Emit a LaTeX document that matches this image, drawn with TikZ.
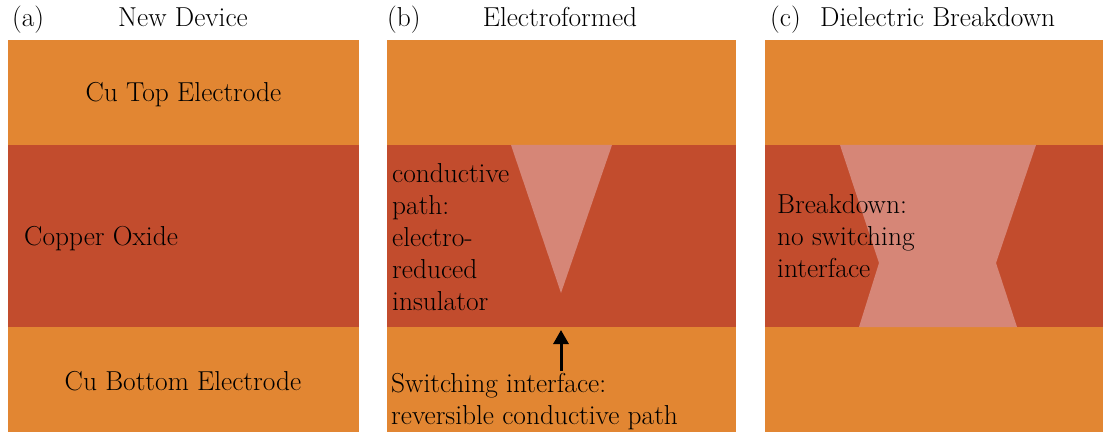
\documentclass[tikz,border=0pt]{standalone}
\usetikzlibrary{arrows.meta,positioning}
\definecolor{copper}{RGB}{226,134,50}
\definecolor{oxide}{RGB}{194,76,45}
\definecolor{filament}{RGB}{214,134,119}

\begin{document}
\begin{tikzpicture}[x=1pt,y=-1pt,
    every node/.style={font=\fontsize{27.4}{32}\selectfont,inner sep=0pt},
    electrode/.style={fill=copper,minimum height=105pt,anchor=north west},
    insulator/.style={fill=oxide,minimum height=182pt,anchor=north west},
    note/.style={align=left,anchor=north west},
    heading/.style={anchor=base west},
    filament/.style={fill=filament},
    up/.style={-{Triangle[length=14pt,width=15pt]},line width=3pt}]

  \useasboundingbox (0,0) rectangle (1103,433);

  % the three stacks
  \foreach \p/\x/\w in {a/8/351,b/387/349,c/765/338} {
    \node[electrode,minimum width=\w pt] (top\p) at (\x,40) {};
    \node[insulator,minimum width=\w pt] (ox\p) at (\x,145) {};
    \node[electrode,minimum width=\w pt] (bot\p) at (\x,327) {};
  }

  % conductive paths
  \fill[filament] (511,145) -- (612,145) -- (561,293) coordinate (apex) -- cycle;
  \fill[filament] (840,145) -- (1036,145) -- (996,263) -- (1017,327)
    -- (859,327) -- (879,263) -- cycle;

  % headings
  \node[heading] (ha) at (12,27) {(a)};
  \node[anchor=base] (ta) at (183,27) {New Device};
  \node[heading] (hb) at (387,27) {(b)};
  \node[anchor=base] (tb) at (560,27) {Electroformed};
  \node[heading] (hc) at (770,27) {(c)};
  \node[heading] (tc) at (820,27) {Dielectric Breakdown};

  % panel (a)
  \node[anchor=base] (toplbl) at (183.5,102) {Cu Top Electrode};
  \node[anchor=base west] (oxlbl) at (24,245) {Copper Oxide};
  \node[anchor=base] (botlbl) at (183,390) {Cu Bottom Electrode};

  % panel (b)
  \node[note] (cond) at (392,163) {conductive\\path:\\electro-\\reduced\\insulator};
  \node[note] (switch) at (391,373) {Switching interface:\\reversible conductive path};
  \draw[up] ([yshift=2pt]switch.north -| apex) -- ([yshift=-3pt]botb.north -| apex);

  % panel (c)
  \node[note] (brk) at (777,194) {Breakdown:\\no switching\\interface};
\end{tikzpicture}
\end{document}
